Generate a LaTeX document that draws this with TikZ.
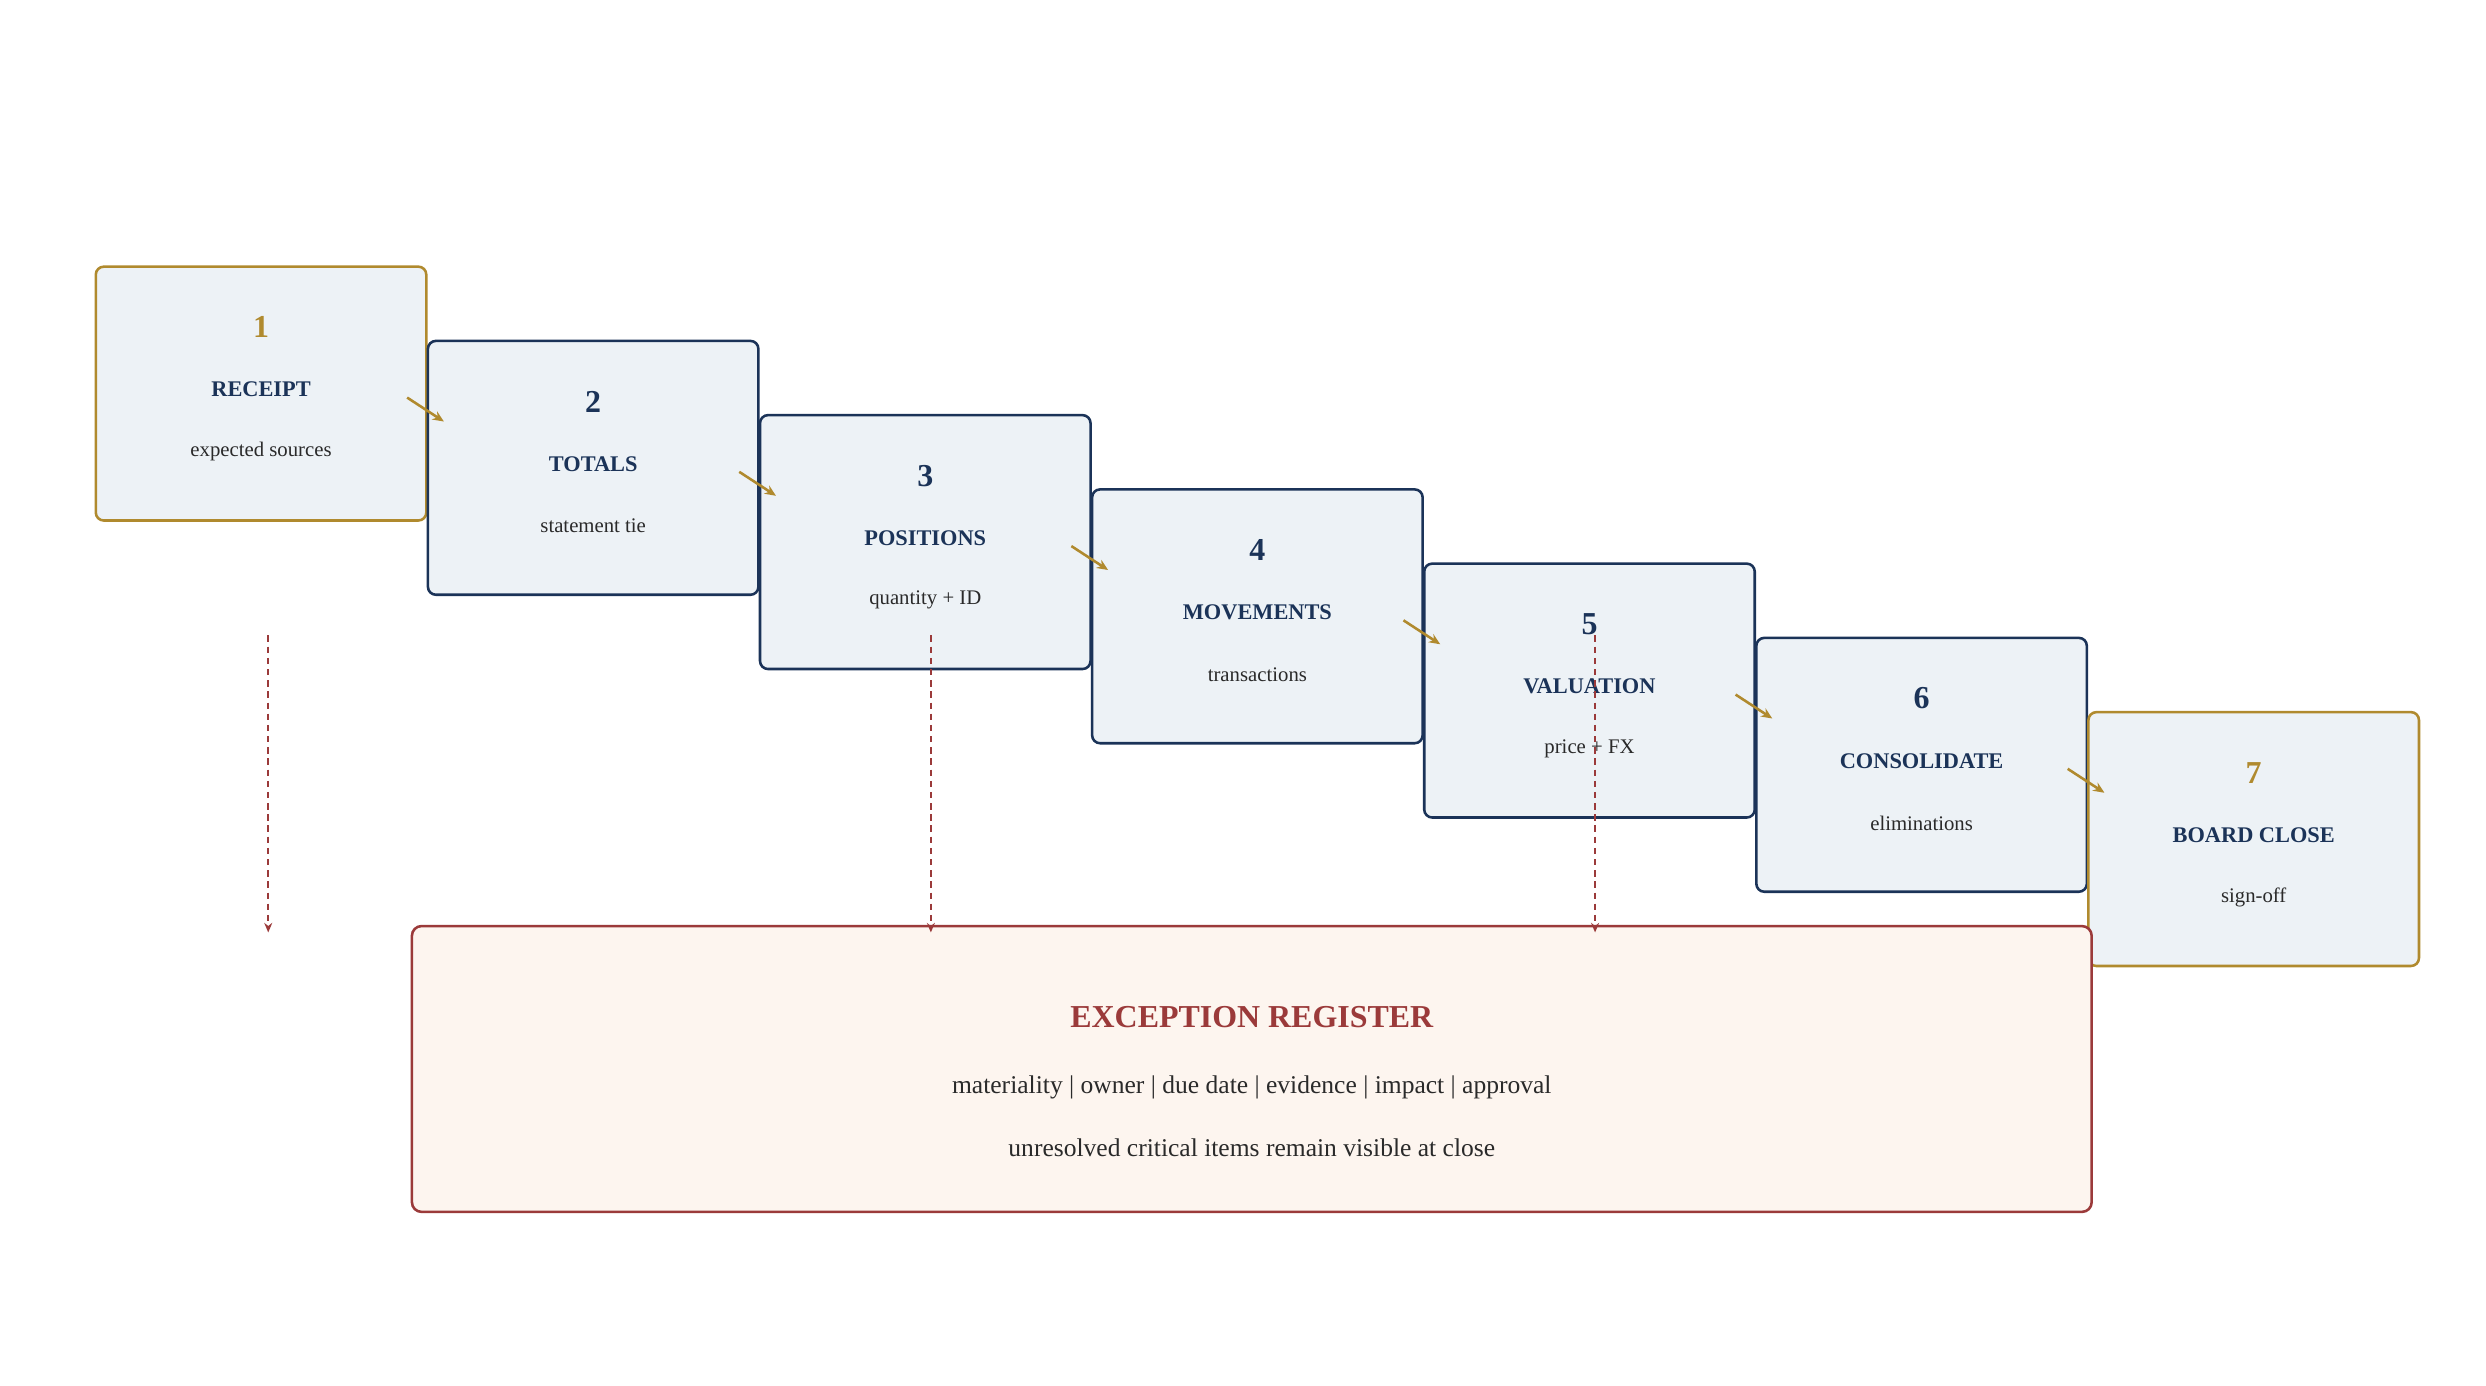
\documentclass[tikz,border=0pt]{standalone}
\usepackage{fontspec}
\setmainfont{Liberation Serif}
\usetikzlibrary{arrows.meta}
\definecolor{navy}{HTML}{1B3358}
\definecolor{gold}{HTML}{B08A2E}
\definecolor{dred}{HTML}{9B3A3A}
\definecolor{boxfill}{HTML}{EDF2F6}
\definecolor{exfill}{HTML}{FDF5EF}
\definecolor{txt}{HTML}{2A2A2A}
\begin{document}
\begin{tikzpicture}[x=1pt,y=-1pt,
  stepbox/.style={draw=navy,line width=1.6pt,fill=boxfill,rounded corners=5pt,minimum width=207pt,minimum height=159pt,inner sep=0pt},
  endbox/.style={stepbox,draw=gold},
  num/.style={font=\bfseries\fontsize{20}{22}\selectfont,text=navy},
  ttl/.style={font=\bfseries\fontsize{14}{16}\selectfont,text=navy},
  sub/.style={font=\fontsize{13}{15}\selectfont,text=txt},
  flow/.style={draw=gold,line width=1.6pt,-{Stealth[length=7pt,width=6pt]}},
  exc/.style={draw=dred,line width=1.2pt,dash pattern=on 4pt off 3pt,-{Stealth[length=6pt,width=5pt]}}]
\useasboundingbox (0,0) rectangle (1557,868);
\foreach \i/\t/\s in {1/RECEIPT/expected sources,2/TOTALS/statement tie,3/POSITIONS/quantity + ID,4/MOVEMENTS/transactions,5/VALUATION/price + FX,6/CONSOLIDATE/eliminations,7/BOARD CLOSE/sign-off}{
  \pgfmathsetmacro\cx{163.5+208*(\i-1)}
  \pgfmathsetmacro\ty{167+46.5*(\i-1)}
  \ifnum\i=1 \def\sty{endbox}\def\nc{gold}\else\ifnum\i=7 \def\sty{endbox}\def\nc{gold}\else\def\sty{stepbox}\def\nc{navy}\fi\fi
  \node[\sty] (b\i) at (\cx,\ty+79.5) {};
  \node[num,text=\nc] (n\i) at (\cx,\ty+38) {\i};
  \node[ttl] (t\i) at (\cx,\ty+77) {\t};
  \node[sub] (s\i) at (\cx,\ty+116) {\s};
}
\foreach \a in {1,...,6}{
  \pgfmathsetmacro\xa{255+208*(\a-1)}
  \pgfmathsetmacro\ya{249+46.5*(\a-1)}
  \coordinate (fa\a) at (\xa,\ya);
  \coordinate (fb\a) at (\xa+23,\ya+15);
  \draw[flow] (fa\a) -- (fb\a);
}
\node[draw=dred,line width=1.6pt,fill=exfill,rounded corners=6pt,minimum width=1052pt,minimum height=179pt,inner sep=0pt] (ex) at (784,669.5) {};
\node[font=\bfseries\fontsize{20}{22}\selectfont,text=dred] (et) at (784,637) {EXCEPTION REGISTER};
\node[font=\fontsize{16}{18}\selectfont,text=txt] (e1) at (784,681) {materiality | owner | due date | evidence | impact | approval};
\node[font=\fontsize{16}{18}\selectfont,text=txt] (e2) at (784,719) {unresolved critical items remain visible at close};
\foreach \x/\k in {168/1,583/2,999/3}{
  \coordinate (ds\k) at (\x,398);
  \coordinate (de\k) at (\x,584);
  \draw[exc] (ds\k) -- (de\k);
}
\end{tikzpicture}
\end{document}
